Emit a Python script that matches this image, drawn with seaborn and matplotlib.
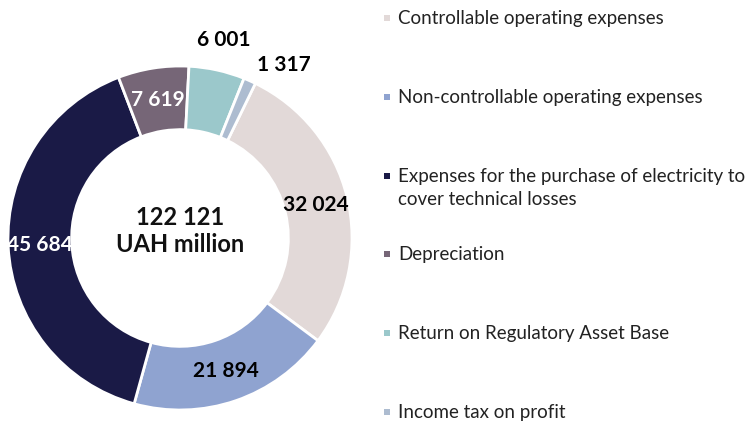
import numpy as np
import matplotlib.pyplot as plt
from matplotlib.patches import Rectangle
import seaborn as sns

categories = ['Controllable operating expenses',
              'Non-controllable operating expenses',
              'Expenses for the purchase of electricity to\ncover technical losses',
              'Depreciation',
              'Return on Regulatory Asset Base',
              'Income tax on profit']
values = [32024, 21894, 45684, 7619, 6001, 1317]
value_labels = ['32 024', '21 894', '45 684', '7 619', '6 001', '1 317']
total_label = '122 121\nUAH million'
colors = ['#E2D9D8', '#8FA3D0', '#1A1A46', '#766677', '#9BC8CB', '#ADBCD0']
label_colors = ['black', 'black', 'white', 'white', 'black', 'black']

sns.set_theme(style='white')
plt.rcParams['font.family'] = ['Lato', 'DejaVu Sans']

W, H = 751, 423
fig = plt.figure(figsize=(W / 100, H / 100), dpi=100)

# donut: centre ~(180, 238) px, radius ~172 px
R = 172
cx, cy = 180, 238
ax = fig.add_axes([(cx - 1.05 * R) / W, (H - cy - 1.05 * R) / H, 2.1 * R / W, 2.1 * R / H])
wedges, _ = ax.pie(values, colors=sns.color_palette(colors), startangle=64, counterclock=False,
                   wedgeprops=dict(width=0.37, edgecolor='white', linewidth=2))
ax.set_xlim(-1.05, 1.05)
ax.set_ylim(-1.05, 1.05)
ax.set_aspect('equal')

total = sum(values)
for w, lab, col, v in zip(wedges, value_labels, label_colors, values):
    mid = np.deg2rad((w.theta1 + w.theta2) / 2)
    share = v / total
    ha = 'center'
    if share < 0.02:
        r, ha = 1.1, 'left'
    elif share < 0.06:
        r = 1.18
    else:
        r = 0.815
    ax.text(r * np.cos(mid), r * np.sin(mid), lab, ha=ha, va='center',
            fontsize=15, fontweight='bold', color=col)

ax.text(0, 0.04, total_label, ha='center', va='center', fontsize=17,
        fontweight='bold', color='#111111', linespacing=1.25)

# legend on the right
y0, step = 18, 78.8
for i, (name, c) in enumerate(zip(categories, colors)):
    yc = y0 + i * step
    fig.add_artist(Rectangle((384 / W, 1 - (yc + 3) / H), 6 / W, 6 / H,
                             transform=fig.transFigure, color=c, lw=0))
    fig.text(398 / W, 1 - (yc - 8) / H, name, ha='left', va='top',
             fontsize=13.5, color='#222222', linespacing=1.45)

fig.savefig('out.png', dpi=100)
